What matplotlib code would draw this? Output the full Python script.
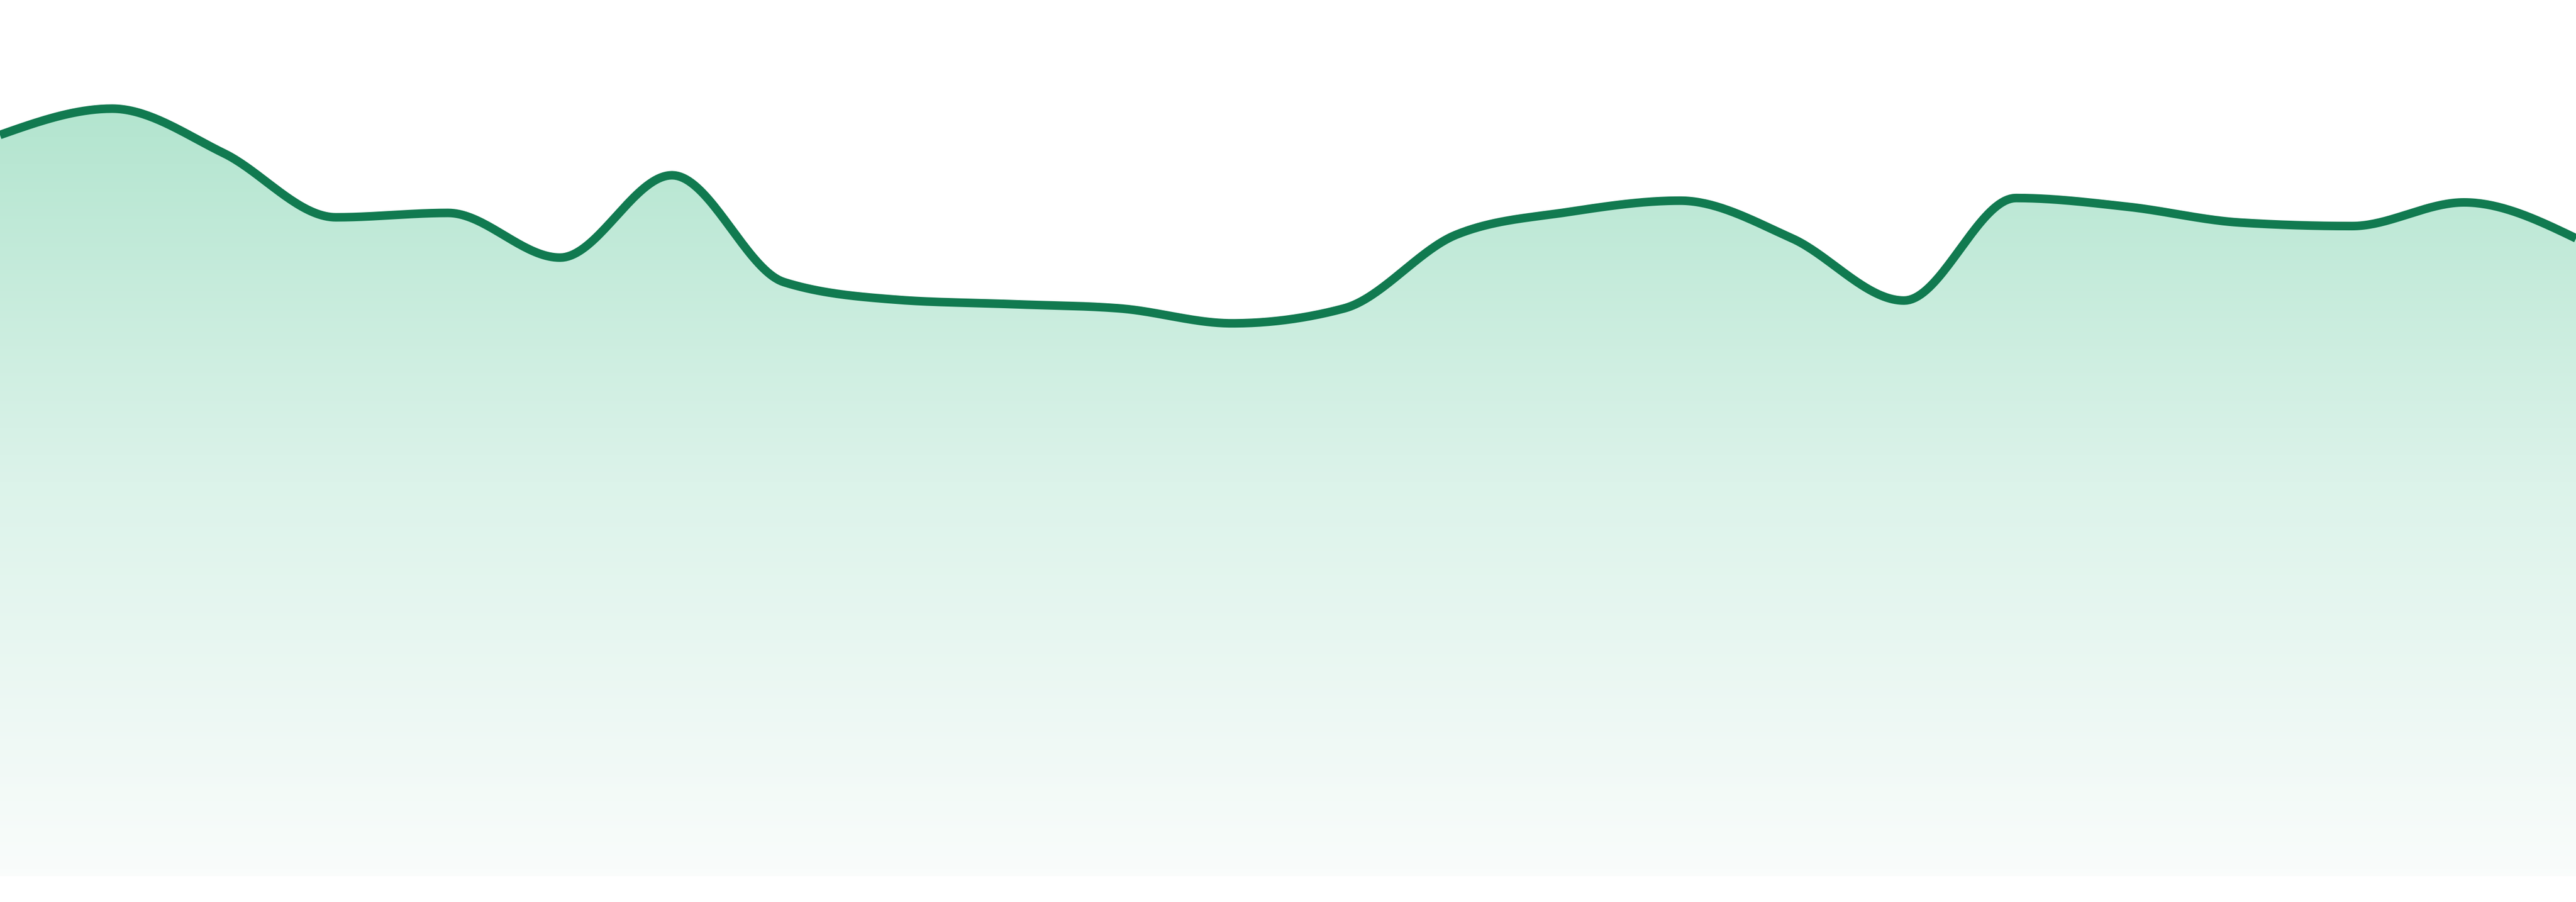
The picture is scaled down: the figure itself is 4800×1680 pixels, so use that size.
import numpy as np
import matplotlib
matplotlib.use('Agg')
import matplotlib.pyplot as plt
from matplotlib.colors import LinearSegmentedColormap

# 数据（24个点）
points = list(range(24))
values = [84.6, 87.6, 82.5, 75.2, 75.7, 70.6, 80.0, 67.8, 65.8, 65.3, 64.8, 63.1,
          64.8, 73.2, 75.8, 77.1, 72.8, 65.7, 77.4, 76.4, 74.6, 74.2, 76.9, 72.8]

line_color = '#117a50'
grad_stops = [(0.0, '#fafcfb'), (0.007, '#f9fcfb'), (0.449, '#dcf3ea'),
              (0.876, '#b3e5cf'), (1.0, '#aae2c9')]


def monotone_curve(x, y, n=40):
    # 单调三次插值（类似 d3 curveMonotoneX）
    x = np.asarray(x, float)
    y = np.asarray(y, float)
    h = np.diff(x)
    s = np.diff(y) / h
    t = np.zeros_like(y)
    for i in range(1, len(y) - 1):
        p = (s[i - 1] * h[i] + s[i] * h[i - 1]) / (h[i - 1] + h[i])
        t[i] = (np.sign(s[i - 1]) + np.sign(s[i])) * min(abs(s[i - 1]), abs(s[i]), 0.5 * abs(p))
    t[0] = (3 * s[0] - t[1]) / 2
    t[-1] = (3 * s[-1] - t[-2]) / 2
    xs, ys = [], []
    for i in range(len(x) - 1):
        u = np.linspace(0, 1, n, endpoint=False)
        h00 = 2 * u**3 - 3 * u**2 + 1
        h10 = u**3 - 2 * u**2 + u
        h01 = -2 * u**3 + 3 * u**2
        h11 = u**3 - u**2
        xs.append(x[i] + u * h[i])
        ys.append(h00 * y[i] + h10 * h[i] * t[i] + h01 * y[i + 1] + h11 * h[i] * t[i + 1])
    xs.append([x[-1]])
    ys.append([y[-1]])
    return np.concatenate(xs), np.concatenate(ys)


fig = plt.figure(figsize=(48, 16.8), dpi=100)
ax = fig.add_axes([0, 48 / 1680, 1, 1632 / 1680])
ax.set_xlim(points[0], points[-1])
ax.set_ylim(0, 100)
ax.axis('off')

cx, cy = monotone_curve(points, values)

# 渐变填充
cmap = LinearSegmentedColormap.from_list('grad', grad_stops)
grad = np.linspace(0, 1, 512).reshape(-1, 1)
img = ax.imshow(grad, extent=[points[0], points[-1], 0, 100], origin='lower',
                cmap=cmap, aspect='auto', zorder=1)
poly = ax.fill_between(cx, 0, cy, facecolor='none', edgecolor='none')
clip = poly.get_paths()[0]
img.set_clip_path(clip, transform=ax.transData)

ax.plot(cx, cy, color=line_color, linewidth=11.5, solid_capstyle='butt', zorder=3)

fig.savefig('out.png', dpi=100)
